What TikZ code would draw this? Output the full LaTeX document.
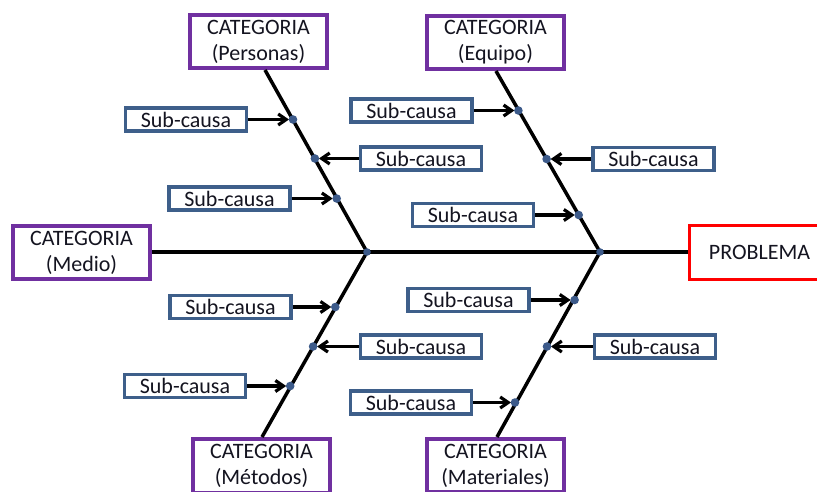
\documentclass[tikz,border=0pt]{standalone}
\usepackage{fontspec}
\setmainfont{Carlito}
\usetikzlibrary{arrows.meta}
\definecolor{subc}{HTML}{3E5F8A}
\definecolor{catc}{HTML}{7030A0}
\definecolor{probc}{HTML}{FF0000}
\definecolor{txtc}{HTML}{141420}
\definecolor{dotc}{HTML}{3C5A8A}
\begin{document}
\begin{tikzpicture}[x=1pt,y=-1pt,
  every node/.style={font=\fontsize{22}{26}\selectfont, text=txtc, inner sep=0pt},
  subbox/.style={draw=subc, line width=3.2pt, fill=white, minimum width=121pt, minimum height=23pt},
  catbox/.style={draw=catc, line width=3.6pt, fill=white, minimum width=137.5pt, minimum height=53.5pt, align=center},
  probbox/.style={draw=probc, line width=3.6pt, fill=white, minimum width=140pt, minimum height=54pt, align=center},
  bone/.style={line width=3.5pt, black},
  arr/.style={line width=3.2pt, black, -{Straight Barb[length=8pt,width=11pt]}, shorten >=4pt},
  dotm/.style={fill=dotc}]
\useasboundingbox (0,0) rectangle (817,491);

% junctions and bone ends
\coordinate (jL) at (367,252);
\coordinate (jR) at (600,252);
\coordinate (eP) at (265,70);
\coordinate (eE) at (496,71);
\coordinate (eM) at (262,437);
\coordinate (eT) at (497,437);

% category boxes
\node[catbox] (pers) at (258.5,41.5) {CATEGORIA\\(Personas)};
\node[catbox] (equi) at (495.5,42.5) {CATEGORIA\\(Equipo)};
\node[catbox] (meto) at (261.5,466) {CATEGORIA\\(Métodos)};
\node[catbox] (mate) at (495.5,465.5) {CATEGORIA\\(Materiales)};
\node[catbox] (medi) at (81.5,252.5) {CATEGORIA\\(Medio)};
\node[probbox] (prob) at (759.5,252.5) {PROBLEMA};

% spine and bones
\draw[bone] (medi.east |- jL) -- (jL) -- (jR) -- (prob.west |- jR);
\draw[bone] (eP) -- (jL) -- (eM);
\draw[bone] (eE) -- (jR) -- (eT);

% dots on bones
\coordinate (d1) at (293.0,119.5);
\coordinate (d2) at (314.9,158.5);
\coordinate (d3) at (336.7,198.5);
\coordinate (d4) at (518.4,110.5);
\coordinate (d5) at (546.6,159);
\coordinate (d6) at (578.7,215);
\coordinate (d7) at (335.3,307);
\coordinate (d8) at (313.1,346.5);
\coordinate (d9) at (290.2,386);
\coordinate (d10) at (574.6,300);
\coordinate (d11) at (547.0,346.5);
\coordinate (d12) at (515.0,402.5);

% sub-causa boxes
\node[subbox] (sA) at (186,119.5) {Sub-causa};
\node[subbox] (sB) at (421,158.5) {Sub-causa};
\node[subbox] (sC) at (229.5,198.5) {Sub-causa};
\node[subbox] (sD) at (411.5,110.5) {Sub-causa};
\node[subbox] (sE) at (653.5,159) {Sub-causa};
\node[subbox] (sF) at (473,215) {Sub-causa};
\node[subbox] (sG) at (230.5,307) {Sub-causa};
\node[subbox] (sH) at (421,346.5) {Sub-causa};
\node[subbox] (sI) at (185,386) {Sub-causa};
\node[subbox] (sJ) at (468.5,300) {Sub-causa};
\node[subbox] (sK) at (655,346.5) {Sub-causa};
\node[subbox] (sL) at (411,402.5) {Sub-causa};

% arrows
\draw[arr] (sA.east) -- (d1);
\draw[arr] (sB.west) -- (d2);
\draw[arr] (sC.east) -- (d3);
\draw[arr] (sD.east) -- (d4);
\draw[arr] (sE.west) -- (d5);
\draw[arr] (sF.east) -- (d6);
\draw[arr] (sG.east) -- (d7);
\draw[arr] (sH.west) -- (d8);
\draw[arr] (sI.east) -- (d9);
\draw[arr] (sJ.east) -- (d10);
\draw[arr] (sK.west) -- (d11);
\draw[arr] (sL.east) -- (d12);

\foreach \d in {d1,d2,d3,d4,d5,d6,d7,d8,d9,d10,d11,d12}
  \fill[dotm] (\d) circle (4.3pt);
\fill[dotm] (jL) circle (3.8pt);
\fill[dotm] (jR) circle (3.8pt);
\end{tikzpicture}
\end{document}
